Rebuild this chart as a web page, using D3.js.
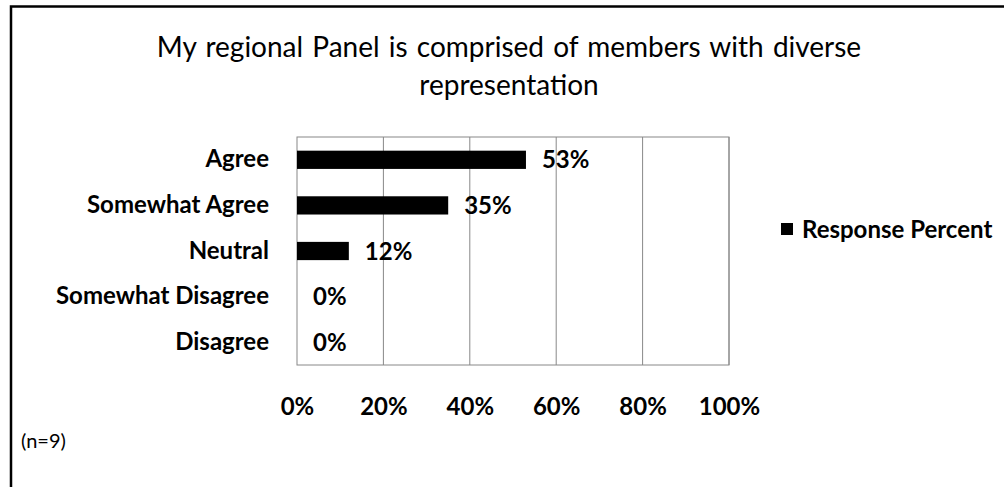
<!DOCTYPE html>
<html><head><meta charset="utf-8">
<script src="https://cdn.jsdelivr.net/npm/d3@7"></script>
<style>html,body{margin:0;padding:0;background:#fff;overflow:hidden}</style>
</head><body>
<svg id="chart" width="1004" height="487"></svg>
<script>
const categories = ["Agree","Somewhat Agree","Neutral","Somewhat Disagree","Disagree"];
const values = [0.53, 0.35, 0.12, 0, 0];
const valueLabels = ["53%","35%","12%","0%","0%"];
const tickValues = [0, 0.2, 0.4, 0.6, 0.8, 1.0];
const titleLines = ["My regional Panel is comprised of members with diverse","representation"];
const seriesName = "Response Percent";
const note = "(n=9)";

const svg = d3.select("#chart");
const font = "Lato, 'Open Sans', sans-serif";
const fs = 24;

// outer frame
svg.append("path").attr("d","M11,490 L11,6.5 L1006,6.5")
  .attr("fill","none").attr("stroke","#000").attr("stroke-width",2.5);

const L=297, R=729, T=137, B=365;
const x = d3.scaleLinear().domain([0,1]).range([L,R]);
const y = d3.scaleBand().domain(categories).range([T,B]).paddingInner(0.6).paddingOuter(0.3);

// gridlines
svg.append("g").selectAll("line").data(tickValues.slice(1)).join("line")
  .attr("x1",d=>x(d)).attr("x2",d=>x(d)).attr("y1",T).attr("y2",B)
  .attr("stroke","#888").attr("stroke-width",1);
svg.append("rect").attr("x",L).attr("y",T).attr("width",R-L).attr("height",B-T)
  .attr("fill","none").attr("stroke","#888").attr("stroke-width",1);

// bars
svg.append("g").selectAll("rect").data(values).join("rect")
  .attr("x",x(0)).attr("y",(d,i)=>y(categories[i]))
  .attr("width",d=>x(d)-x(0)).attr("height",y.bandwidth()).attr("fill","#000");

// value labels
svg.append("g").selectAll("text").data(values).join("text")
  .attr("x",d=>x(d)+16).attr("y",(d,i)=>y(categories[i])+y.bandwidth()/2)
  .attr("dy","0.36em").attr("font-family",font).attr("font-weight","bold")
  .attr("font-size",fs).attr("fill","#000").text((d,i)=>valueLabels[i]);

// category axis
const yAxis = d3.axisLeft(y).tickSize(0).tickPadding(28);
const yg = svg.append("g").attr("transform",`translate(${L},0)`).call(yAxis);
yg.select(".domain").remove();
yg.selectAll("text").attr("font-family",font).attr("font-weight","bold")
  .attr("font-size",fs).attr("fill","#000");

// x axis labels
const xAxis = d3.axisBottom(x).tickValues(tickValues).tickSize(0).tickPadding(33).tickFormat(d3.format(".0%"));
const xg = svg.append("g").attr("transform",`translate(0,${B})`).call(xAxis);
xg.select(".domain").remove();
xg.selectAll("text").attr("font-family",font).attr("font-weight","bold")
  .attr("font-size",fs).attr("fill","#000");

// title
svg.append("g").selectAll("text").data(titleLines).join("text")
  .attr("x",509).attr("y",(d,i)=>47+i*38).attr("dy","0.36em").attr("text-anchor","middle")
  .attr("font-family",font).attr("font-size",28).attr("word-spacing",2)
  .attr("fill","#000").text(d=>d);

// legend
svg.append("rect").attr("x",781).attr("y",223).attr("width",12).attr("height",12).attr("fill","#000");
svg.append("text").attr("x",802).attr("y",229).attr("dy","0.36em")
  .attr("font-family",font).attr("font-weight","bold").attr("font-size",fs).attr("fill","#000").text(seriesName);

// note
svg.append("text").attr("x",21).attr("y",441).attr("dy","0.36em")
  .attr("font-family",font).attr("font-size",20).attr("fill","#000").text(note);
</script>
</body></html>
